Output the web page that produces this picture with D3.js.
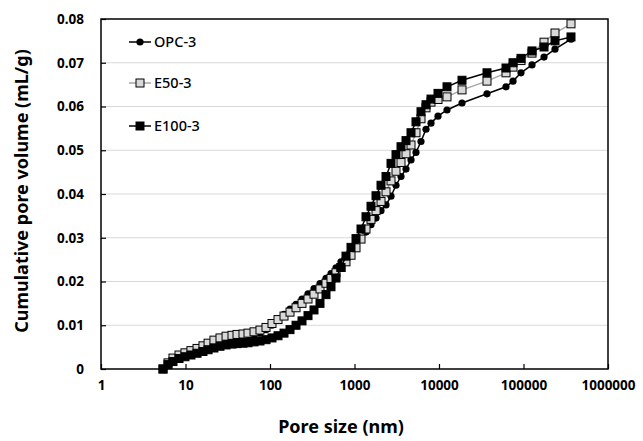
<!DOCTYPE html>
<html>
<head>
<meta charset="utf-8">
<script src="https://cdn.jsdelivr.net/npm/d3@7"></script>
<style>
  body { margin: 0; background: #fff; }
  text { font-family: "Noto Sans", "Open Sans", sans-serif; fill: #000; }
</style>
</head>
<body>
<svg id="chart" width="643" height="441"></svg>
<script>
// pore size (nm), shared by the three samples
const poreSize = [5.42, 6.21, 7.11, 8.38, 9.86, 11.6, 13.7, 16.1, 18.5, 21.7, 25.6, 30.2, 35.5, 40.7, 47.9, 54.9, 64.7, 76.1, 89.7, 105.6,
  124.4, 146.5, 172.5, 203.2, 239.2, 281.7, 331.7, 390.6, 460, 527, 604, 692, 793, 909, 1042, 1194, 1368, 1568, 1797, 2059,
  2360, 2704, 3098, 3551, 4069, 4663, 5343, 6123, 7017, 8041, 9731, 12440, 18720, 36980, 62100, 75120, 93400, 126100, 174900, 236000, 364800];

const opc3 = [0, 0.0012, 0.0021, 0.0028, 0.0032, 0.0037, 0.0042, 0.0048, 0.0053, 0.0058, 0.0062, 0.0065, 0.0067, 0.0069, 0.0071, 0.0073, 0.0077, 0.0082, 0.0090, 0.0100,
  0.0112, 0.0125, 0.0137, 0.0148, 0.0160, 0.0172, 0.0184, 0.0195, 0.0207, 0.0218, 0.0231, 0.0245, 0.0258, 0.0270, 0.0283, 0.0298, 0.0313, 0.0330, 0.0345, 0.0362,
  0.0375, 0.0395, 0.0420, 0.0440, 0.0457, 0.0478, 0.0495, 0.0520, 0.0548, 0.0562, 0.0578, 0.0592, 0.0608, 0.0629, 0.0645, 0.0658, 0.0677, 0.0695, 0.0713, 0.0731, 0.0754];

const e50_3 = [0, 0.0014, 0.0025, 0.0032, 0.0037, 0.0042, 0.0047, 0.0053, 0.0059, 0.0066, 0.0071, 0.0075, 0.0077, 0.0079, 0.0080, 0.0082, 0.0085, 0.0089, 0.0095, 0.0104,
  0.0113, 0.0121, 0.0130, 0.0140, 0.0150, 0.0160, 0.0171, 0.0183, 0.0196, 0.0207, 0.0220, 0.0232, 0.0245, 0.0260, 0.0277, 0.0297, 0.0320, 0.0342, 0.0362, 0.0383,
  0.0405, 0.0430, 0.0452, 0.0472, 0.0492, 0.0512, 0.0540, 0.0572, 0.0597, 0.0610, 0.0616, 0.0622, 0.0638, 0.0658, 0.0677, 0.0690, 0.0705, 0.0722, 0.0747, 0.0768, 0.0789];

const e100_3 = [0, 0.0010, 0.0017, 0.0024, 0.0028, 0.0032, 0.0036, 0.0040, 0.0044, 0.0048, 0.0052, 0.0055, 0.0057, 0.0058, 0.0059, 0.0060, 0.0062, 0.0064, 0.0067, 0.0071,
  0.0076, 0.0082, 0.0090, 0.0100, 0.0110, 0.0122, 0.0135, 0.0150, 0.0170, 0.0188, 0.0208, 0.0232, 0.0258, 0.0278, 0.0298, 0.0320, 0.0348, 0.0372, 0.0396, 0.0420,
  0.0440, 0.0470, 0.0490, 0.0508, 0.0522, 0.0540, 0.0565, 0.0588, 0.0604, 0.0617, 0.0630, 0.0645, 0.0660, 0.0677, 0.0688, 0.0700, 0.0710, 0.0727, 0.0736, 0.0750, 0.0759];

const seriesNames = ["OPC-3", "E50-3", "E100-3"];
const xTicks = [1, 10, 100, 1000, 10000, 100000, 1000000];
const yTicks = [0, 0.01, 0.02, 0.03, 0.04, 0.05, 0.06, 0.07, 0.08];

const series = [
  { name: seriesNames[0], values: opc3, shape: "circle", fill: "#000", line: "#000" },
  { name: seriesNames[1], values: e50_3, shape: "square", fill: "#d9d9d9", line: "#a6a6a6" },
  { name: seriesNames[2], values: e100_3, shape: "square", fill: "#000", line: "#000" }
];

const svg = d3.select("#chart");
const plotL = 101, plotR = 608, plotT = 19, plotB = 369;

const x = d3.scaleLog().domain([1, 1000000]).range([plotL, plotR]);
const y = d3.scaleLinear().domain([0, 0.08]).range([plotB, plotT]);

// gridlines
svg.append("g").selectAll("line")
  .data(yTicks.filter(d => d > 0 && d < 0.08))
  .join("line")
  .attr("x1", plotL).attr("x2", plotR)
  .attr("y1", d => y(d)).attr("y2", d => y(d))
  .attr("stroke", "#d9d9d9").attr("stroke-width", 1);

// axes, ticks pointing inward
const xAxis = d3.axisBottom(x).tickValues(xTicks).tickSize(-5).tickPadding(11).tickFormat(d3.format("d"));
const yAxis = d3.axisLeft(y).tickValues(yTicks).tickSize(-5).tickPadding(17).tickFormat(d => d === 0 ? "0" : d3.format(".2f")(d));

const gx = svg.append("g").attr("transform", `translate(0,${plotB})`).call(xAxis);
const gy = svg.append("g").attr("transform", `translate(${plotL},0)`).call(yAxis);
[gx, gy].forEach(g => {
  g.select(".domain").remove();
  g.selectAll(".tick line").attr("stroke", "#000").attr("stroke-width", 1.2);
  g.selectAll("text").attr("font-size", 13.5).attr("font-weight", "bold")
    .attr("font-family", "'Noto Sans', sans-serif").attr("fill", "#000");
});

// plot frame
svg.append("rect")
  .attr("x", plotL).attr("y", plotT)
  .attr("width", plotR - plotL).attr("height", plotB - plotT)
  .attr("fill", "none").attr("stroke", "#000").attr("stroke-width", 1.5);

const line = d3.line().x((d, i) => x(poreSize[i])).y(d => y(d));

function marker(g, shape, fill, cx, cy) {
  if (shape === "circle") {
    g.append("circle").attr("cx", cx).attr("cy", cy).attr("r", 3.6).attr("fill", fill);
  } else {
    g.append("rect").attr("x", cx - 4).attr("y", cy - 4).attr("width", 8).attr("height", 8)
      .attr("fill", fill).attr("stroke", "#000").attr("stroke-width", 1);
  }
}

series.forEach(s => {
  const g = svg.append("g");
  g.append("path").datum(s.values).attr("d", line)
    .attr("fill", "none").attr("stroke", s.line).attr("stroke-width", 1.5);
  s.values.forEach((v, i) => marker(g, s.shape, s.fill, x(poreSize[i]), y(v)));
});

// legend
const legY = [42, 83, 126];
series.forEach((s, i) => {
  const g = svg.append("g");
  g.append("line").attr("x1", 129).attr("x2", 151).attr("y1", legY[i]).attr("y2", legY[i])
    .attr("stroke", s.line).attr("stroke-width", 1.5);
  marker(g, s.shape, s.fill, 140, legY[i]);
  g.append("text").attr("x", 154).attr("y", legY[i] + 5).attr("font-size", 14.5).attr("font-weight", 500)
    .text(s.name);
});

// axis titles
svg.append("text").attr("x", 341).attr("y", 433).attr("text-anchor", "middle")
  .attr("font-size", 18).attr("font-weight", "bold").text("Pore size (nm)");
svg.append("text").attr("transform", "translate(28,191) rotate(-90)").attr("text-anchor", "middle")
  .attr("font-size", 18).attr("font-weight", "bold").text("Cumulative pore volume (mL/g)");
</script>
</body>
</html>
